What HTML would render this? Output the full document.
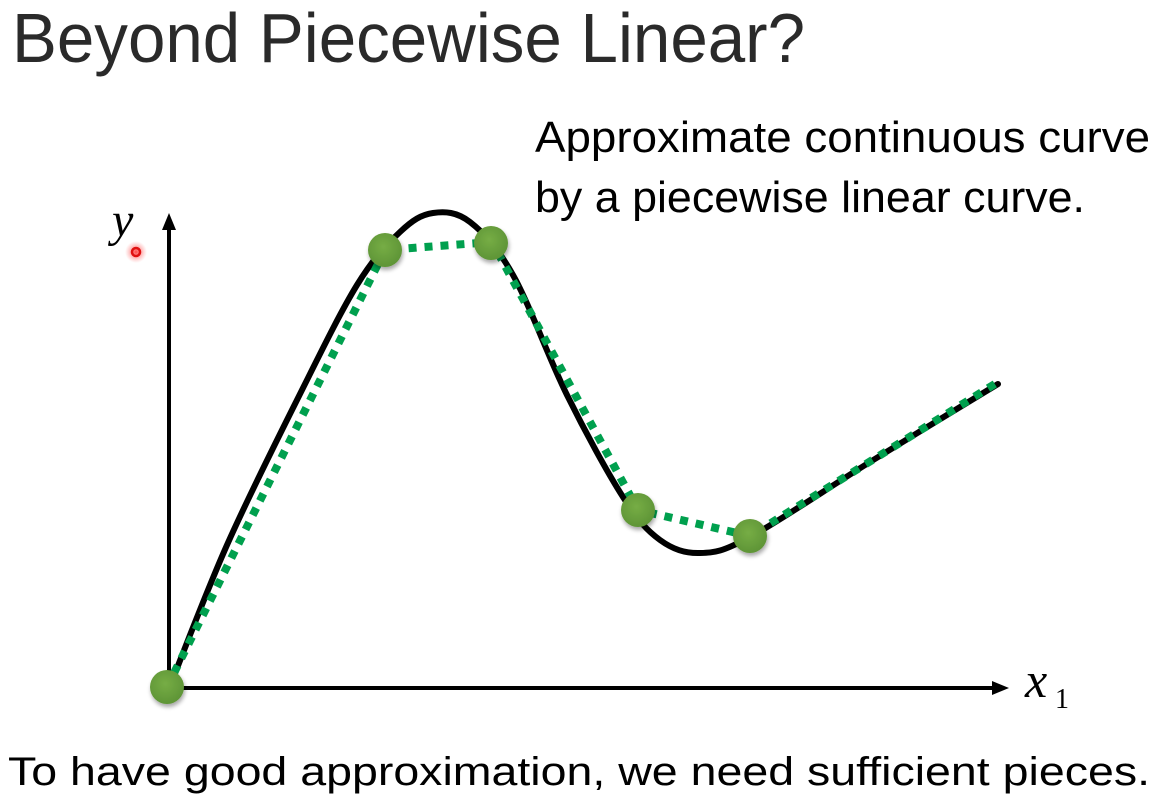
<!DOCTYPE html>
<html>
<head>
<meta charset="utf-8">
<style>
  html, body { margin:0; padding:0; background:#ffffff; }
  svg { display:block; }
</style>
</head>
<body>
<svg width="1156" height="795" viewBox="0 0 1156 795" xmlns="http://www.w3.org/2000/svg">
  <defs>
    <radialGradient id="dotg" cx="45%" cy="40%" r="60%">
      <stop offset="0%" stop-color="#76ad45"/>
      <stop offset="100%" stop-color="#5e9436"/>
    </radialGradient>
    <filter id="sh" x="-50%" y="-50%" width="200%" height="200%">
      <feGaussianBlur in="SourceAlpha" stdDeviation="2"/>
      <feOffset dx="1" dy="3" result="o"/>
      <feComponentTransfer><feFuncA type="linear" slope="0.35"/></feComponentTransfer>
      <feMerge><feMergeNode/><feMergeNode in="SourceGraphic"/></feMerge>
    </filter>
    <radialGradient id="laser" cx="50%" cy="50%" r="50%">
      <stop offset="0%" stop-color="#ff3030" stop-opacity="0.9"/>
      <stop offset="60%" stop-color="#ff6060" stop-opacity="0.35"/>
      <stop offset="100%" stop-color="#ff8080" stop-opacity="0"/>
    </radialGradient>
  </defs>

  <!-- Title -->
  <text x="12" y="62" font-family="Liberation Sans, sans-serif" font-size="70" fill="#2a2a2a" textLength="793" lengthAdjust="spacingAndGlyphs">Beyond Piecewise Linear?</text>

  <!-- Right annotation -->
  <text x="535" y="152" font-family="Liberation Sans, sans-serif" font-size="44" fill="#000" textLength="615" lengthAdjust="spacingAndGlyphs">Approximate continuous curve</text>
  <text x="535" y="212" font-family="Liberation Sans, sans-serif" font-size="44" fill="#000" textLength="550" lengthAdjust="spacingAndGlyphs">by a piecewise linear curve.</text>

  <!-- Bottom text -->
  <text x="8" y="785" font-family="Liberation Sans, sans-serif" font-size="40" fill="#000" textLength="1142" lengthAdjust="spacingAndGlyphs">To have good approximation, we need sufficient pieces.</text>

  <!-- Axes -->
  <line x1="169" y1="688" x2="169" y2="228" stroke="#000" stroke-width="4"/>
  <polygon points="169,213 162,230 176,230" fill="#000"/>
  <line x1="168" y1="688" x2="994" y2="688" stroke="#000" stroke-width="4"/>
  <polygon points="1009,688 992,681 992,695" fill="#000"/>

  <!-- Axis labels -->
  <text x="112" y="236" font-family="Liberation Serif, serif" font-style="italic" font-size="48" fill="#000">y</text>
  <text x="1025" y="697" font-family="Liberation Serif, serif" font-style="italic" font-size="50" fill="#000">x</text>
  <text x="1055" y="708" font-family="Liberation Serif, serif" font-size="28" fill="#000">1</text>

  <!-- Laser pointer dot -->
  <circle cx="136" cy="252" r="11" fill="url(#laser)"/>
  <circle cx="136" cy="252" r="4" fill="none" stroke="#e01010" stroke-width="2.5"/>

  <!-- Continuous curve -->
  <path d="M170,686
           C179.5,662.5 205.8,592.7 227,545
           C248.2,497.3 275.3,443.3 297,400
           C318.7,356.7 339.8,313 357,285
           C374.2,257 387.3,244 400,232
           C412.7,220 421.3,214.7 433,213
           C444.7,211.3 456.7,211.7 470,222
           C483.3,232.3 496.8,246.2 513,275
           C529.2,303.8 548.7,358 567,395
           C585.3,432 607.5,472.8 623,497
           C638.5,521.2 647.2,530.7 660,540
           C672.8,549.3 685,553.5 700,553
           C715,552.5 721.7,552.2 750,537
           C778.3,521.8 828.7,487.5 870,462
           C911.3,436.5 976.7,397 998,384"
        fill="none" stroke="#000" stroke-width="6" stroke-linecap="round" stroke-linejoin="round"/>

  <!-- Piecewise linear dotted -->
  <path d="M167,687 L385,250 L492,242 L638,510 L750,536 L998,382"
        fill="none" stroke="#00a04e" stroke-width="8" stroke-dasharray="8 8" stroke-linejoin="miter"/>

  <!-- Green dots -->
  <g filter="url(#sh)" fill="url(#dotg)">
    <circle cx="167" cy="687" r="17"/>
    <circle cx="385" cy="250" r="17"/>
    <circle cx="491" cy="243" r="17"/>
    <circle cx="638" cy="510" r="17"/>
    <circle cx="750" cy="536" r="17"/>
  </g>
</svg>
</body>
</html>
